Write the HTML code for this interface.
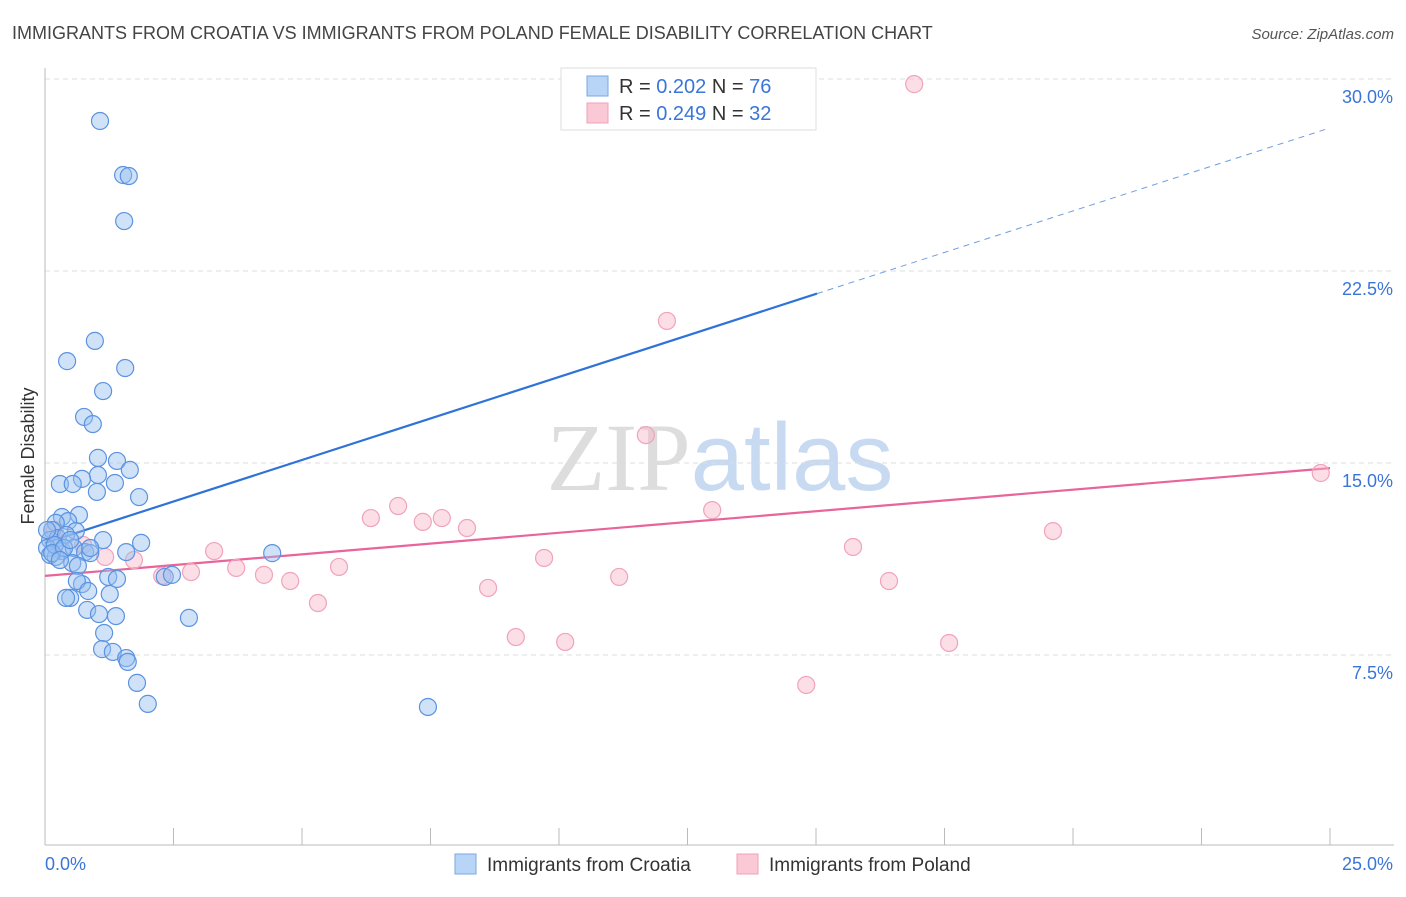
<!DOCTYPE html>
<html><head><meta charset="utf-8"><style>
body{margin:0;background:#fff;font-family:"Liberation Sans",sans-serif}
svg text{font-family:"Liberation Sans",sans-serif}
</style></head><body>
<svg id="chart" width="1406" height="892" viewBox="0 0 1406 892" xmlns="http://www.w3.org/2000/svg">
<text x="12" y="39" font-size="18" fill="#444">IMMIGRANTS FROM CROATIA VS IMMIGRANTS FROM POLAND FEMALE DISABILITY CORRELATION CHART</text>
<text x="1394" y="39" font-size="15" fill="#555" text-anchor="end" font-style="italic">Source: ZipAtlas.com</text>
<text x="720" y="490" font-size="96" text-anchor="middle"><tspan font-family="Liberation Serif" fill="#ddd">ZIP</tspan><tspan fill="#c7daf2">atlas</tspan></text>
<g id="grid"></g>
<g id="axes"></g>
<g id="lines"></g>
<g id="pts"></g>
<text transform="translate(34,456) rotate(-90)" font-size="18" fill="#333" text-anchor="middle">Female Disability</text>
<g>
<rect x="561" y="68" width="255" height="62" fill="#fff" stroke="#ddd"/>
<rect x="587" y="76" width="21" height="20" fill="#b8d4f6" stroke="#7aa8e6"/>
<rect x="587" y="103" width="21" height="20" fill="#fbc8d6" stroke="#f0a0b8"/>
<text x="619" y="93" font-size="20" fill="#333">R = <tspan fill="#3a75d8">0.202</tspan>   N = <tspan fill="#3a75d8">76</tspan></text>
<text x="619" y="120" font-size="20" fill="#333">R = <tspan fill="#3a75d8">0.249</tspan>   N = <tspan fill="#3a75d8">32</tspan></text>
</g>
<g>
<rect x="455" y="854" width="21" height="20" fill="#b8d4f6" stroke="#7aa8e6"/>
<text x="487" y="871" font-size="19" fill="#333">Immigrants from Croatia</text>
<rect x="737" y="854" width="21" height="20" fill="#fbc8d6" stroke="#f0a0b8"/>
<text x="769" y="871" font-size="19" fill="#333">Immigrants from Poland</text>
</g>
</svg>
<script>
const yTicks=[7.5,15,22.5,30];
const yTickLabels=["7.5%","15.0%","22.5%","30.0%"];
const xTickLabels=["0.0%","25.0%"];
const croatiaX=[1.07,1.52,1.63,1.54,0.97,0.43,1.56,1.13,0.76,0.93,1.03,1.40,1.65,1.03,0.72,0.29,0.54,1.36,1.01,1.83,0.66,0.33,0.45,0.21,0.60,0.14,0.10,0.25,0.41,0.04,0.33,0.56,0.78,0.88,1.13,1.87,1.58,0.21,0.53,0.64,1.23,1.40,2.33,2.47,0.72,0.62,0.49,1.26,0.82,1.05,1.38,2.80,1.15,1.11,1.32,1.58,1.61,1.79,2.00,4.42,7.45,10.33,0.10,0.19,0.04,0.14,0.37,0.88,0.49,0.41,0.84,0.29];
const croatiaY=[28.36,26.25,26.21,24.45,19.77,18.98,18.71,17.81,16.80,16.52,15.20,15.08,14.73,14.53,14.38,14.18,14.18,14.22,13.87,13.67,12.97,12.89,12.73,12.66,12.34,12.38,11.99,12.07,12.19,11.68,11.56,11.68,11.52,11.48,11.99,11.88,11.52,11.33,11.09,10.98,10.55,10.47,10.55,10.63,10.27,10.39,9.73,9.88,9.26,9.10,9.02,8.95,8.36,7.73,7.62,7.38,7.23,6.41,5.59,11.48,5.47,29.45,11.41,11.80,12.38,11.48,11.68,11.68,11.99,9.73,10.0,11.21];
const polandX=[16.91,12.10,11.69,24.82,6.87,6.34,7.35,7.72,8.21,12.98,19.61,15.72,9.71,3.29,1.17,1.73,0.74,3.72,4.26,2.84,2.28,4.77,5.72,11.17,16.42,8.62,5.31,9.16,10.12,17.59,14.81,0.19];
const polandY=[29.80,20.55,16.09,14.61,13.32,12.85,12.70,12.85,12.46,13.16,12.34,11.72,11.29,11.56,11.33,11.21,11.80,10.90,10.63,10.74,10.59,10.39,10.94,10.55,10.39,10.12,9.53,8.20,8.01,7.97,6.33,12.38];
const croatiaTrend=[11.875,28.09]; // value at x=0 and x=25
const polandTrend=[10.59,14.8];
const croatiaSolidEnd=15.02;

const NS="http://www.w3.org/2000/svg";
const X=v=>45+v*51.4, Y=v=>847-v*25.6;
function mk(tag,attrs,parent){const e=document.createElementNS(NS,tag);for(const k in attrs)e.setAttribute(k,attrs[k]);parent.appendChild(e);return e;}
const grid=document.getElementById('grid'),axes=document.getElementById('axes'),lines=document.getElementById('lines'),pts=document.getElementById('pts');
yTicks.forEach((t,i)=>{
  const l=mk('line',{x1:45,x2:1394,y1:Y(t),y2:Y(t),stroke:'#ddd','stroke-dasharray':'5,4'},grid);
  
  
  const tx=mk('text',{x:1393,y:Y(t)+24,'font-size':18,fill:'#3a75d8','text-anchor':'end'},grid);
  tx.textContent=yTickLabels[i];
  
  
});
mk('line',{x1:45,x2:45,y1:68,y2:845,stroke:'#bbb'},axes);
mk('line',{x1:45,x2:1394,y1:845,y2:845,stroke:'#bbb'},axes);
for(let i=0;i<=10;i++){const t=mk('line',{x1:X(i*2.5),x2:X(i*2.5),y1:828,y2:845,stroke:'#bbb'},axes);
  
  }
const xl0=mk('text',{x:45,y:870,'font-size':18,fill:'#3a75d8'},axes);xl0.textContent=xTickLabels[0];


const xl1=mk('text',{x:1393,y:870,'font-size':18,fill:'#3a75d8','text-anchor':'end'},axes);xl1.textContent=xTickLabels[1];


function dot(x,y,f,s,name){const c=mk('circle',{cx:X(x),cy:Y(y),r:8.5,fill:f,stroke:s,'stroke-width':1.2},pts);
  
  }
polandX.forEach((x,i)=>dot(x,polandY[i],'rgba(248,182,202,0.45)','#f0a3ba','poland-point'));
croatiaX.forEach((x,i)=>dot(x,croatiaY[i],'rgba(150,190,240,0.45)','#5b93e0','croatia-point'));
const cAt=v=>croatiaTrend[0]+(croatiaTrend[1]-croatiaTrend[0])*v/25;
const pAt=v=>polandTrend[0]+(polandTrend[1]-polandTrend[0])*v/25;
const l1=mk('line',{x1:X(0),y1:Y(cAt(0)),x2:X(croatiaSolidEnd),y2:Y(cAt(croatiaSolidEnd)),stroke:'#2f72d8','stroke-width':2.2},lines);


const l2=mk('line',{x1:X(croatiaSolidEnd),y1:Y(cAt(croatiaSolidEnd)),x2:X(25),y2:Y(cAt(25)),stroke:'#6f9de0','stroke-width':1,'stroke-dasharray':'6,5'},lines);


const l3=mk('line',{x1:X(0),y1:Y(pAt(0)),x2:X(25),y2:Y(pAt(25)),stroke:'#e8649a','stroke-width':2.2},lines);


</script>
</body></html>
